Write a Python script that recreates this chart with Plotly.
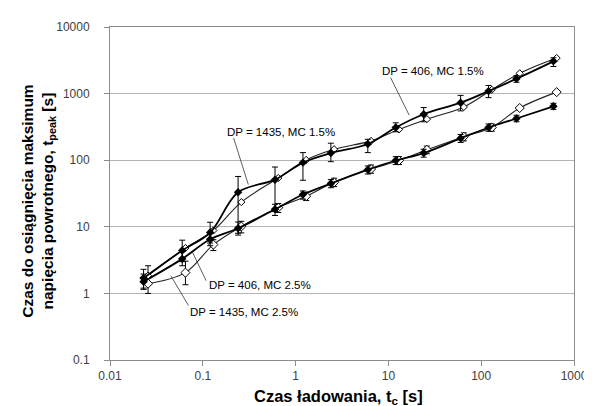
import plotly.graph_objects as go

# ---- data ----
x_filled = [0.023, 0.06, 0.12, 0.24, 0.6, 1.2, 2.4, 6, 12, 24, 60, 120, 240, 600]
x_open = [0.0257, 0.065, 0.13, 0.26, 0.65, 1.3, 2.6, 6.5, 13, 26, 65, 130, 260, 650]

# DP = 1435, MC 1.5% (filled, upper)
uf_y = [1.7, 4.4, 8.2, 33, 51, 92, 128, 175, 310, 490, 730, 1090, 1670, 3050]
uf_ep = [0.6, 1.9, 3.5, 24, 28, 38, 52, 31, 54, 127, 210, 235, 190, 400]
uf_em = [0.5, 1.4, 2.5, 25, 34, 42, 33, 45, 43, 113, 180, 220, 190, 500]

# DP = 406, MC 1.5% (open, upper)
uo_y = [1.85, 4.8, 8.8, 23.5, 54, 101, 146, 195, 290, 413, 630, 1140, 2020, 3420]

# DP = 406, MC 2.5% (filled, lower)
lf_y = [1.5, 3.3, 6.5, 9.5, 18.3, 30.5, 44.6, 72, 99, 128, 213, 310, 423, 645]
lf_ep = [0.45, 0.9, 1.6, 2.3, 3.5, 4.0, 6.5, 10, 14, 18, 30, 40, 50, 70]
lf_em = [0.35, 0.7, 1.3, 2.0, 3.5, 4.5, 6.0, 10, 13, 17, 28, 38, 45, 65]

# DP = 1435, MC 2.5% (open, lower)
lo_y = [1.4, 2.05, 5.4, 10.1, 19.4, 28.8, 46.6, 73.6, 99, 143, 225, 310, 608, 1052]
lo_ep = [1.2, 1.0, 1.0, 2.0, 3.0, 4.0, 7.0, 11, 14, 20, 32, 40, 0, 0]
lo_em = [0.4, 0.7, 1.0, 2.0, 3.0, 4.0, 6.5, 10, 13, 18, 30, 38, 0, 0]

x_ticks = [0.01, 0.1, 1, 10, 100, 1000]
x_ticktext = ["0.01", "0.1", "1", "10", "100", "1000"]
y_ticks = [0.1, 1, 10, 100, 1000, 10000]
y_ticktext = ["0.1", "1", "10", "100", "1000", "10000"]

series_labels = ["DP = 406, MC 1.5%", "DP = 1435, MC 1.5%",
                 "DP = 406, MC 2.5%", "DP = 1435, MC 2.5%"]

# ---- layout geometry (pixels) ----
W, H = 592, 406
L, R, T, B = 102, 575, 16, 352


def px(xp):
    return (xp - L) / (R - L)


def py(yp):
    return (B - yp) / (B - T)


fig = go.Figure()


def err(plus, minus):
    return dict(type="data", array=plus, arrayminus=minus, visible=True,
                color="black", thickness=1, width=3)


fig.add_trace(go.Scatter(
    x=x_open, y=lo_y, mode="lines+markers", name=series_labels[3],
    line=dict(color="#222222", width=1.1, shape="spline", smoothing=1),
    marker=dict(symbol="diamond", size=7, color="white",
                line=dict(color="black", width=1)),
    error_y=err(lo_ep, lo_em)))
fig.add_trace(go.Scatter(
    x=x_filled, y=lf_y, mode="lines+markers", name=series_labels[2],
    line=dict(color="black", width=1.8, shape="spline", smoothing=1),
    marker=dict(symbol="diamond", size=6.5, color="black"),
    error_y=err(lf_ep, lf_em)))
fig.add_trace(go.Scatter(
    x=x_open, y=uo_y, mode="lines+markers", name=series_labels[0],
    line=dict(color="#222222", width=1.1, shape="spline", smoothing=1),
    marker=dict(symbol="diamond", size=5.5, color="white",
                line=dict(color="black", width=1))))
fig.add_trace(go.Scatter(
    x=x_filled, y=uf_y, mode="lines+markers", name=series_labels[1],
    line=dict(color="black", width=1.8, shape="spline", smoothing=1),
    marker=dict(symbol="diamond", size=6.5, color="black"),
    error_y=err(uf_ep, uf_em)))

axis_common = dict(
    type="log", showline=True, linecolor="#8c8c8c", linewidth=1, mirror=True,
    ticks="outside", ticklen=5, tickcolor="#8c8c8c",
    tickfont=dict(family="Liberation Sans, Arial", size=12, color="#404040"),
    zeroline=False,
)
fig.update_xaxes(**axis_common, range=[-2, 3], tickvals=x_ticks,
                 ticktext=x_ticktext, showgrid=False)
fig.update_yaxes(**axis_common, range=[-1, 4], tickvals=y_ticks,
                 ticktext=y_ticktext, showgrid=True, gridcolor="#b4b4b4",
                 gridwidth=1, ticklabelstandoff=12)

# leader lines for labels
leaders = [
    ((388, 67), (407, 105)),
    ((228, 128), (243, 175)),
    ((200, 272), (186, 243)),
    ((182, 297), (164, 267)),
]
label_pos = [(431, 60), (276, 122), (255, 276), (239, 304)]

shapes = []
for (a, b) in leaders:
    shapes.append(dict(type="line", xref="paper", yref="paper",
                       x0=px(a[0]), y0=py(a[1]), x1=px(b[0]), y1=py(b[1]),
                       line=dict(color="#333333", width=0.8)))

annotations = []
for text, (cx, cy) in zip(series_labels, label_pos):
    annotations.append(dict(text=text, xref="paper", yref="paper",
                            x=px(cx), y=py(cy), showarrow=False,
                            xanchor="center", yanchor="middle",
                            font=dict(family="Liberation Sans, Arial",
                                      size=11.5, color="black")))

annotations.append(dict(
    text="<b>Czas do osiągnięcia maksimum</b><br><b>napięcia powrotnego, t<sub>peak</sub> [s]</b>",
    xref="paper", yref="paper", x=px(29), y=py(192), showarrow=False,
    textangle=-90, xanchor="center", yanchor="middle",
    font=dict(family="Liberation Sans, Arial", size=15.5, color="black")))
annotations.append(dict(
    text="<b>Czas ładowania, t<sub>c</sub> [s]</b>",
    xref="paper", yref="paper", x=px(335), y=py(389), showarrow=False,
    xanchor="center", yanchor="middle",
    font=dict(family="Liberation Sans, Arial", size=16.5, color="black")))

fig.update_layout(
    width=W, height=H,
    margin=dict(l=L, r=W - R, t=T, b=H - B),
    paper_bgcolor="white", plot_bgcolor="white",
    showlegend=False,
    shapes=shapes, annotations=annotations,
    font=dict(family="Liberation Sans, Arial"),
)

fig.write_html("out.html")
